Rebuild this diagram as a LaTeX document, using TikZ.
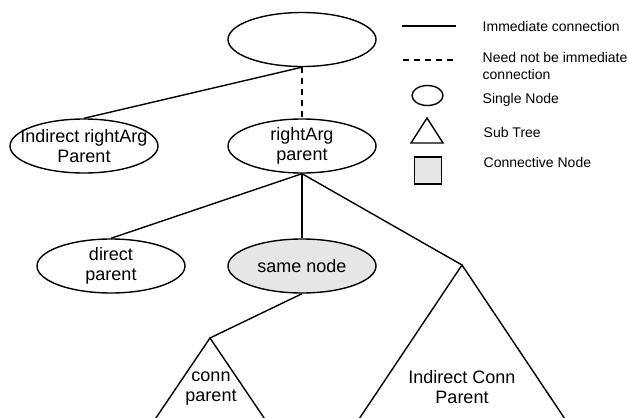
\documentclass[tikz,border=0pt]{standalone}
\usepackage{fontspec}
\setmainfont{Liberation Sans}
\usepackage{tikz}
\usetikzlibrary{shapes.geometric,positioning,calc}
\definecolor{conngray}{HTML}{E6E6E6}

\begin{document}
\begin{tikzpicture}[x=1pt, y=-1pt, line width=1.4pt,
 treenode/.style={draw, ellipse, minimum width=148pt, minimum height=54pt,
  inner xsep=-25pt, inner ysep=-6pt, align=center, font=\fontsize{18}{20}\selectfont},
 legtext/.style={anchor=west, inner sep=0pt, align=left, font=\fontsize{14}{17}\selectfont},
 subtree/.style={align=center, inner sep=0pt, font=\fontsize{18}{20}\selectfont}]
 \useasboundingbox (0,0) rectangle (627,418);
 \clip (0,0) rectangle (627,418);
 % tree
 \node[treenode] (top) at (302, 39.5) {};
 \node[treenode] (indirect) at (84, 146) {Indirect rightArg\\Parent};
 \node[treenode] (rightarg) at (302, 146) {rightArg\\parent};
 \node[treenode] (direct) at (111, 266) {direct\\parent};
 \node[treenode, fill=conngray] (same) at (302, 266) {same node};
 % sub trees (cut off at the bottom)
 \coordinate (connapex) at (210, 338);
 \coordinate (indconnapex) at (462, 265);
 \draw[line join=miter] (141, 440) -- (connapex) -- (279, 440);
 \draw[line join=miter] (345, 440) -- (indconnapex) -- (579, 440);
 \node[subtree] (conn) at (211, 389) {conn\\parent};
 \node[subtree] (indconn) at (462, 387) {Indirect Conn\\Parent};
 % connections
 \draw (top.south) -- (indirect.north);
 \draw[dash pattern=on 6pt off 5pt] (top.south) -- (rightarg.north);
 \draw (rightarg.south) -- (direct.north);
 \draw (rightarg.south) -- (same.north);
 \draw (rightarg.south) -- (indconnapex);
 \draw (same.south) -- (connapex);
 % legend
 \coordinate (solida) at (402, 26);
 \coordinate (solidb) at (456, 26);
 \draw (solida) -- (solidb);
 \node[legtext] (l1) at (482, 26) {Immediate connection};
 \coordinate (dasha) at (403, 60);
 \coordinate (dashb) at (456, 60);
 \draw[dash pattern=on 6pt off 5pt] (dasha) -- (dashb);
 \node[legtext] (l2) at (482, 66) {Need not be immediate\\connection};
 \node[draw, ellipse, minimum width=31pt, minimum height=20pt, inner sep=0pt] (legnode) at (427.5, 95.5) {};
 \node[legtext] (l3) at (482, 100) {Single Node};
 \draw[line join=miter] (411, 143) -- (427, 118) -- (443, 143) -- cycle;
 \node[legtext] (l4) at (483, 132) {Sub Tree};
 \node[draw, fill=conngray, minimum width=27pt, minimum height=27pt, inner sep=0pt] (legconn) at (428, 170.5) {};
 \node[legtext] (l5) at (483, 162) {Connective Node};
\end{tikzpicture}
\end{document}
